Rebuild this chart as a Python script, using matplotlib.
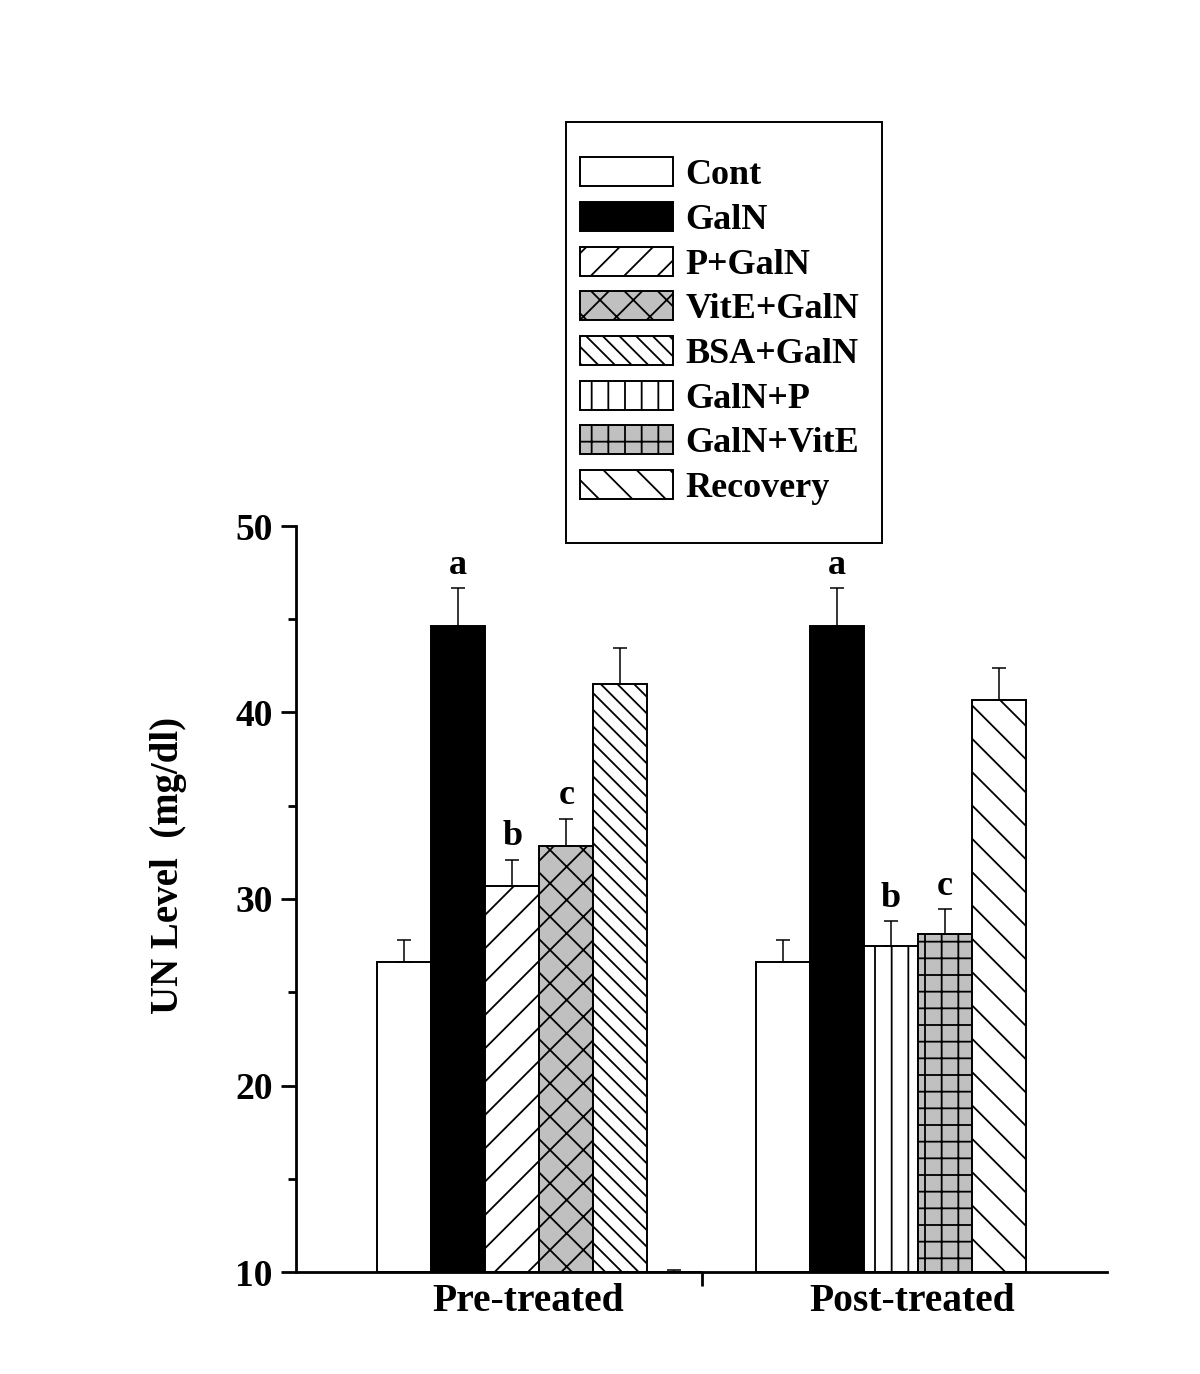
import numpy as np
import matplotlib
matplotlib.use("Agg")
import matplotlib.pyplot as plt
from matplotlib.patches import Rectangle

plt.rcParams['font.family'] = 'Liberation Serif'
plt.rcParams['font.weight'] = 'bold'
plt.rcParams['hatch.linewidth'] = 1.3

# Data
groups = ["Pre-treated", "Post-treated"]
pre_names = ["Cont", "GalN", "P+GalN", "VitE+GalN", "BSA+GalN", "Recovery"]
pre_vals = [26.6, 44.65, 30.7, 32.85, 41.55, 10.0]
pre_errs = [1.2, 2.0, 1.4, 1.45, 1.9, 0.1]
pre_marks = ["", "a", "b", "c", "", ""]

post_names = ["Cont", "GalN", "GalN+P", "GalN+VitE", "Recovery"]
post_vals = [26.6, 44.65, 27.5, 28.15, 40.65]
post_errs = [1.2, 2.0, 1.3, 1.3, 1.75]
post_marks = ["", "a", "b", "c", ""]

legend_order = ["Cont", "GalN", "P+GalN", "VitE+GalN", "BSA+GalN",
                "GalN+P", "GalN+VitE", "Recovery"]

# bar styles
styles = {
    "Cont": dict(color="white", hatch=None),
    "GalN": dict(color="black", hatch=None),
    "P+GalN": dict(color="white", hatch="/"),
    "VitE+GalN": dict(color="#c0c0c0", hatch="x"),
    "BSA+GalN": dict(color="white", hatch="\\\\"),
    "GalN+P": dict(color="white", hatch="|"),
    "GalN+VitE": dict(color="#c0c0c0", hatch="+"),
    "Recovery": dict(color="white", hatch="\\"),
}

fig = plt.figure(figsize=(12, 13.74), dpi=100)
ax = fig.add_axes([296 / 1200, 1 - 1272 / 1374, (1107 - 296) / 1200, (1272 - 526) / 1374])

handles = {}
width = 1.0

def draw_group(names, vals, errs, marks, start):
    x = start + np.arange(len(names))
    for xi, n, v, e, m in zip(x, names, vals, errs, marks):
        st = styles[n]
        b = ax.bar(xi, v - 10, width, bottom=10, color=st["color"], hatch=st["hatch"],
                   edgecolor="black", linewidth=1.4, zorder=2)
        handles[n] = b
        ax.errorbar(xi, v, yerr=[[0], [e]], fmt="none", ecolor="black",
                    elinewidth=1.1, capsize=5, capthick=1.1, zorder=3, clip_on=False)
        if m:
            ax.text(xi, v + e + 0.35, m, ha="center", va="bottom", fontsize=26,
                    fontweight="bold")

draw_group(pre_names, pre_vals, pre_errs, pre_marks, 2)
draw_group(post_names, post_vals, post_errs, post_marks, 9)

ax.set_xlim(0, 15)
ax.set_ylim(10, 50)

for s in ["top", "right"]:
    ax.spines[s].set_visible(False)
for s in ["left", "bottom"]:
    ax.spines[s].set_linewidth(2)

ax.set_yticks([10, 20, 30, 40, 50])
ax.set_yticks([15, 25, 35, 45], minor=True)
ax.tick_params(axis="y", which="major", length=11, width=2, pad=6, labelsize=27)
ax.tick_params(axis="y", which="minor", length=6, width=2)

ax.set_xticks([7.5])
ax.set_xticklabels([""])
ax.set_xticks([4.3, 11.4], minor=True)
ax.set_xticklabels(groups, minor=True)
ax.tick_params(axis="x", which="major", length=10, width=2)
ax.tick_params(axis="x", which="minor", length=0, pad=8, labelsize=28.5)

fig.text(168 / 1200, 1 - 865 / 1374, "UN Level  (mg/dl)", rotation=90,
         ha="center", va="center", fontsize=28, fontweight="bold")

leg = fig.legend([handles[n] for n in legend_order], legend_order,
                 loc="upper left", bbox_to_anchor=(566 / 1200, 1 - 143 / 1374),
                 bbox_transform=fig.transFigure, borderaxespad=0,
                 fontsize=26, handlelength=2.55, handleheight=0.85,
                 handletextpad=0.36, labelspacing=0.27, borderpad=0.4,
                 frameon=False)
# legend frame drawn separately so the padding can differ per side
fig.patches.append(Rectangle((566 / 1200, 1 - 543 / 1374), (882 - 566) / 1200,
                             (543 - 122) / 1374, transform=fig.transFigure,
                             fill=False, edgecolor="black", linewidth=1.4))

fig.savefig("out.png", dpi=100)
